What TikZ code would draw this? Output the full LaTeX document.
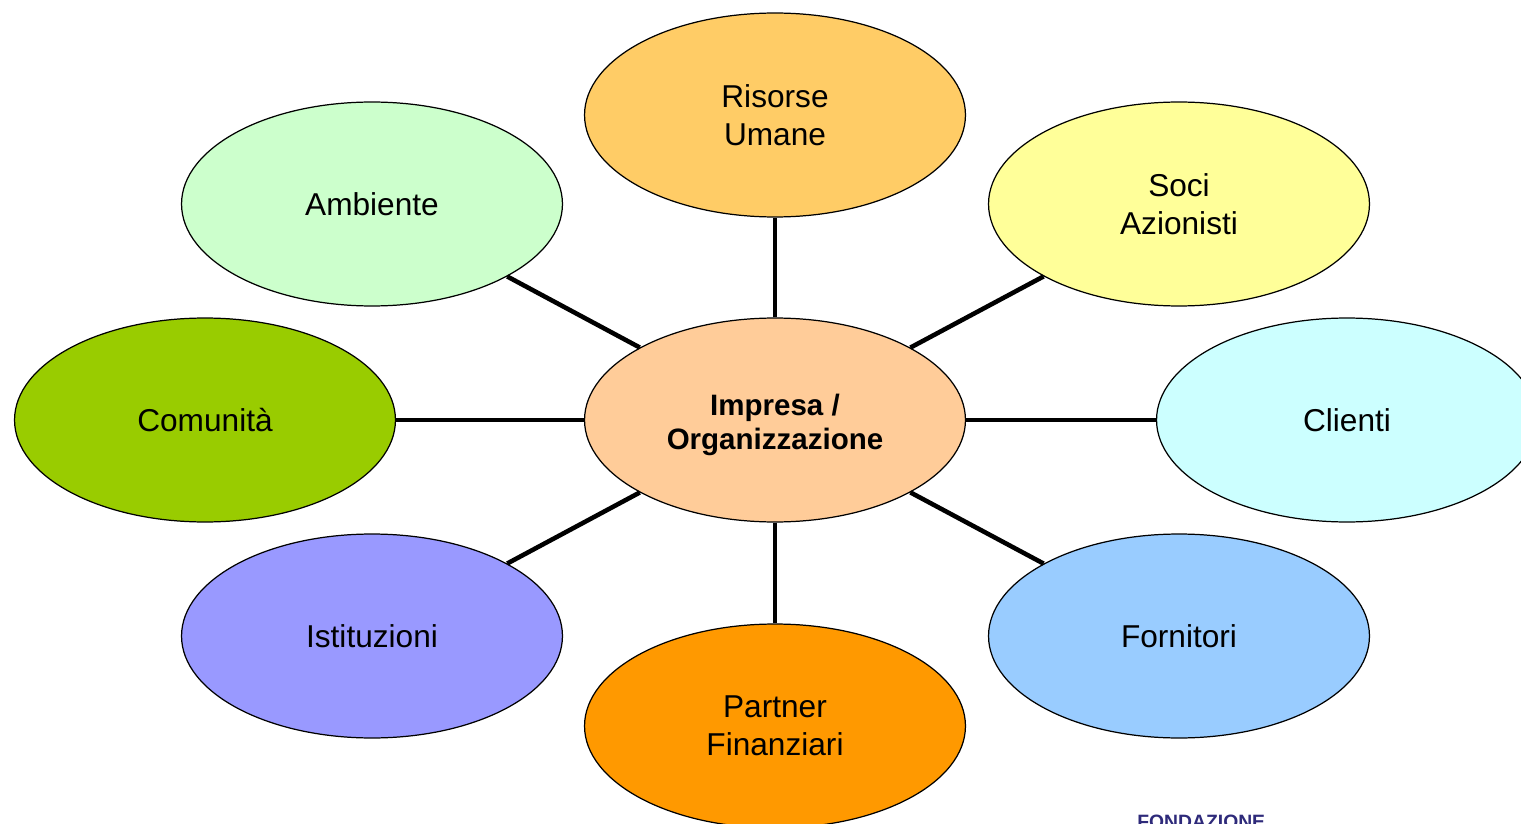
\documentclass[tikz,border=0pt]{standalone}
\usepackage{fontspec}
\setmainfont{Liberation Sans}
\usetikzlibrary{shapes.geometric}

\definecolor{cimp}{HTML}{FFCC99}
\definecolor{cris}{HTML}{FFCC66}
\definecolor{camb}{HTML}{CCFFCC}
\definecolor{csoc}{HTML}{FFFF99}
\definecolor{ccom}{HTML}{99CC00}
\definecolor{ccli}{HTML}{CCFFFF}
\definecolor{cist}{HTML}{9999FF}
\definecolor{cfor}{HTML}{99CCFF}
\definecolor{cpar}{HTML}{FF9900}
\definecolor{cfond}{HTML}{2E2A7A}

\tikzset{
  stake/.style={ellipse, draw=black, line width=0.7pt, inner sep=0pt,
    minimum width=7.62cm, minimum height=4.08cm, align=center,
    font=\fontsize{18}{21.5}\selectfont},
  spoke/.style={line width=2.6pt, black}
}

\begin{document}
\begin{tikzpicture}[x=0.02cm, y=-0.02cm]
\useasboundingbox (0,0) rectangle (1521,824);

\node[stake, fill=cimp, font=\fontsize{16.8}{19.3}\selectfont\bfseries] (imp) at (775,420)
    {\rule{0pt}{18pt}Impresa /\\Organizzazione};
\node[stake, fill=cris] (ris) at (775,115)
    {Risorse\\Umane};
\node[stake, fill=camb] (amb) at (372,204)
    {Ambiente};
\node[stake, fill=csoc] (soc) at (1179,204)
    {Soci\\Azionisti};
\node[stake, fill=ccom] (com) at (205,420)
    {Comunità};
\node[stake, fill=ccli] (cli) at (1347,420)
    {Clienti};
\node[stake, fill=cist] (ist) at (372,636)
    {Istituzioni};
\node[stake, fill=cfor] (for) at (1179,636)
    {Fornitori};
\node[stake, fill=cpar] (par) at (775,726)
    {Partner\\Finanziari};

\draw[spoke](imp) -- (ris);
\draw[spoke](imp) -- (amb);
\draw[spoke](imp) -- (soc);
\draw[spoke](imp) -- (com);
\draw[spoke](imp) -- (cli);
\draw[spoke](imp) -- (ist);
\draw[spoke](imp) -- (for);
\draw[spoke](imp) -- (par);

\node[anchor=north west, inner sep=0pt, text=cfond,
      font=\fontsize{11}{13}\selectfont\bfseries] (fond) at (1137,815)
    {FONDAZIONE};
\end{tikzpicture}
\end{document}
